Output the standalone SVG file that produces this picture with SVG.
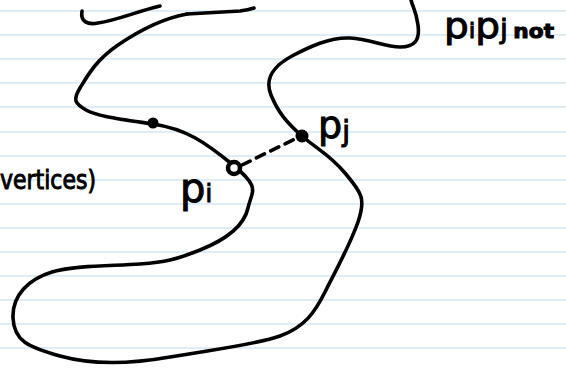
<svg xmlns="http://www.w3.org/2000/svg" width="566" height="370" viewBox="0 0 566 370">
<style>
.rule{stroke:#d3e9f6;stroke-width:1.6}
.ink{fill:none;stroke:#000;stroke-width:3.6;stroke-linecap:round;stroke-linejoin:round}
.hw{font-family:"DejaVu Sans",sans-serif;fill:#000;stroke:#000;stroke-width:1;font-weight:normal}
</style>
<rect width="566" height="370" fill="#fff"/>
<g id="ruling">
<line class="rule" x1="0" y1="11" x2="566" y2="11"/>
<line class="rule" x1="0" y1="35" x2="566" y2="35"/>
<line class="rule" x1="0" y1="59" x2="566" y2="59"/>
<line class="rule" x1="0" y1="83" x2="566" y2="83"/>
<line class="rule" x1="0" y1="107" x2="566" y2="107"/>
<line class="rule" x1="0" y1="132" x2="566" y2="132"/>
<line class="rule" x1="0" y1="156" x2="566" y2="156"/>
<line class="rule" x1="0" y1="180" x2="566" y2="180"/>
<line class="rule" x1="0" y1="204" x2="566" y2="204"/>
<line class="rule" x1="0" y1="228" x2="566" y2="228"/>
<line class="rule" x1="0" y1="252" x2="566" y2="252"/>
<line class="rule" x1="0" y1="276" x2="566" y2="276"/>
<line class="rule" x1="0" y1="300" x2="566" y2="300"/>
<line class="rule" x1="0" y1="324" x2="566" y2="324"/>
<line class="rule" x1="0" y1="348" x2="566" y2="348"/>
</g>
<g id="curve">
<path class="ink" d="M82,11 C80,22 88,25 98,23 C118,20 135,12 160,6"/>
<path class="ink" d="M254,8 Q248,10 240,11 L187,14"/>
<path class="ink" d="M187,14 C165,18 140,30 118,45 S88,75 80,88 S76,104 86,110 S120,119 153,124 S205,142 233,165 S252,190 248,208 S225,240 200,250 S165,262 140,264 S75,265 52,272 S12,295 13,318 S28,347 60,356 S130,364 170,357 S255,345 280,336 S315,312 325,292 S350,245 358,222 S362,193 345,173 S318,150 302,136 S278,112 271,95 S275,65 292,56 S330,37 350,38 S385,47 400,47 S420,40 418,25 S413,8 411,0"/>
</g>
<g id="connectors">
<line class="ink" x1="242" y1="165" x2="297" y2="138" stroke-dasharray="9 7" stroke-width="3"/>
</g>
<g id="dot"><circle cx="153" cy="123" r="5.5" fill="#000"/></g>
<g id="pi-node"><circle cx="234" cy="168" r="6" fill="#fff" stroke="#000" stroke-width="4.5"/></g>
<g id="pj-node"><circle cx="302" cy="136" r="6.5" fill="#000"/></g>
<g id="labels">
<text class="hw" x="0" y="189" font-size="26" textLength="96" lengthAdjust="spacingAndGlyphs">vertices)</text>
<text class="hw" x="180" y="202" font-size="40">p<tspan font-size="24">i</tspan></text>
<text class="hw" x="318" y="138" font-size="38">p<tspan font-size="28" dy="3">j</tspan></text>
<text class="hw" x="444" y="38" font-size="36" textLength="110" lengthAdjust="spacingAndGlyphs">p<tspan font-size="22">i</tspan>p<tspan font-size="26">j</tspan><tspan font-size="20" font-weight="bold" dx="5">not</tspan></text>
</g>
</svg>
